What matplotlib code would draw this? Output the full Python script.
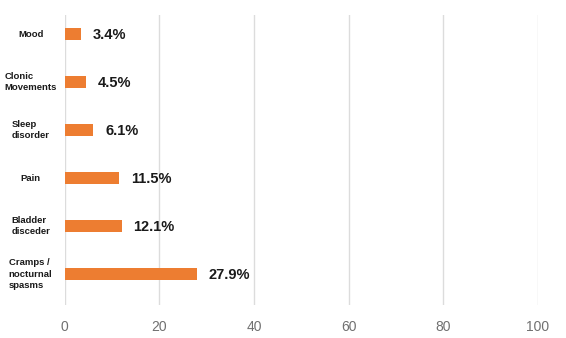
import matplotlib
matplotlib.use("Agg")
import matplotlib.pyplot as plt
import matplotlib.transforms as mtransforms

plt.rcParams['font.family'] = ['Liberation Sans', 'DejaVu Sans']

# Data (bottom to top)
categories = ["Cramps /\nnocturnal\nspasms", "Bladder\ndisceder", "Pain",
              "Sleep\ndisorder", "Clonic\nMovements", "Mood"]
values = [27.9, 12.1, 11.5, 6.1, 4.5, 3.4]
xticks = [0, 20, 40, 60, 80, 100]

fig = plt.figure(figsize=(5.66, 3.38), dpi=100)
ax = fig.add_axes([0.114, 0.0976, 0.8365, 0.858])

ypos = list(range(len(categories)))
ax.barh(ypos, values, height=0.27, color="#ED7D31", zorder=3)

for y, v in zip(ypos, values):
    ax.annotate(f"{v}%", (v, y), xytext=(8.5, -1), textcoords="offset points",
                ha="left", va="center", fontsize=10.5, fontweight="bold", color="#1a1a1a")

# category labels, left-aligned block centred on a fixed x
trans = mtransforms.blended_transform_factory(fig.transFigure, ax.transData)
for y, c in zip(ypos, categories):
    ax.text(0.054, y, c, transform=trans, ha="center", va="center",
            multialignment="left", fontsize=6.8, fontweight="bold", color="#1a1a1a",
            linespacing=1.3)

ax.set_xlim(0, 100)
ax.set_ylim(-0.646, 5.396)
ax.set_xticks(xticks)
ax.set_yticks([])
ax.tick_params(axis="x", length=0, labelsize=10, labelcolor="#707070", pad=11)
ax.grid(axis="x", color="#dcdcdc", linewidth=1, zorder=0)
for s in ax.spines.values():
    s.set_visible(False)

fig.savefig("out.png", dpi=100)
